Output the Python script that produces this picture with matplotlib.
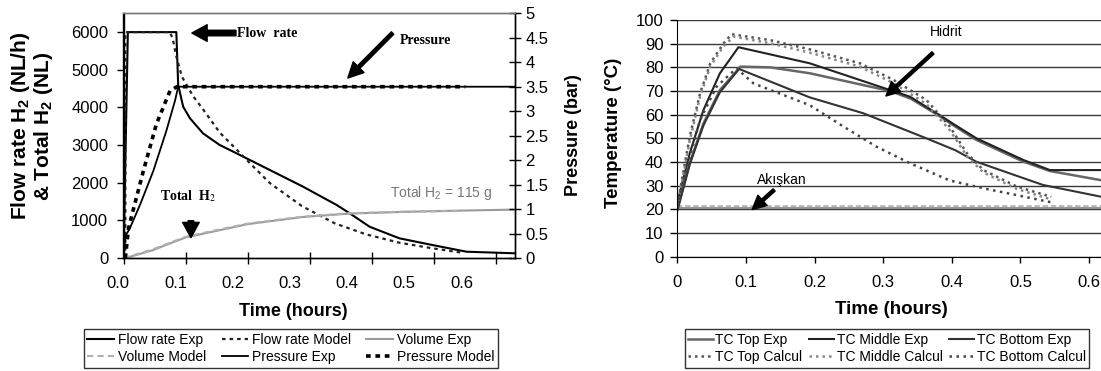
import matplotlib
matplotlib.use("Agg")
import matplotlib.pyplot as plt

plt.rcParams['font.family'] = ['Liberation Sans', 'DejaVu Sans']
plt.rcParams['mathtext.fontset'] = 'custom'
plt.rcParams['mathtext.rm'] = 'Liberation Sans'
plt.rcParams['mathtext.bf'] = 'Liberation Sans:bold'
plt.rcParams['mathtext.it'] = 'Liberation Sans:italic'

# ---------------- Left chart data ----------------
x_ticks_left = [0.0, 0.1, 0.2, 0.3, 0.4, 0.5, 0.6]
x_ticklabels_left = ["0.0", "0.1", "0.2", "0.3", "0.4", "0.5", "0.6"]
y_ticks_flow = [0, 1000, 2000, 3000, 4000, 5000, 6000]
y_ticks_pres = [0, 0.5, 1, 1.5, 2, 2.5, 3, 3.5, 4, 4.5, 5]
y_ticklabels_pres = ["0", "0.5", "1", "1.5", "2", "2.5", "3", "3.5", "4", "4.5", "5"]

fr_exp_t = [0, 0.007, 0.085, 0.088, 0.096, 0.107, 0.128, 0.155, 0.182, 0.2355,
            0.289, 0.343, 0.364, 0.396, 0.444, 0.497, 0.552, 0.630]
fr_exp_v = [0, 6000, 6000, 4595, 4020, 3710, 3310, 3000, 2780, 2337,
            1894, 1408, 1187, 831, 523, 345, 167, 125]

fr_mod_t = [0.003, 0.003, 0.074, 0.079, 0.084, 0.094, 0.112, 0.128, 0.155, 0.182,
            0.209, 0.2355, 0.287, 0.340, 0.390, 0.444, 0.497, 0.545]
fr_mod_v = [0, 6000, 6000, 5850, 5420, 4815, 4300, 3950, 3330, 2880,
            2425, 1990, 1380, 920, 630, 406, 258, 140]

vol_exp_t = [0, 0.010, 0.048, 0.075, 0.100, 0.155, 0.200, 0.289, 0.364, 0.450, 0.530, 0.627]
vol_exp_v = [0, 30, 212, 390, 545, 740, 900, 1090, 1180, 1225, 1255, 1285]

vol_mod_t = [0, 0.010, 0.048, 0.075, 0.100, 0.155, 0.200, 0.289, 0.364, 0.450, 0.545]
vol_mod_v = [0, 45, 235, 405, 565, 760, 915, 1100, 1190, 1230, 1250]

p_exp_t = [0, 0.003, 0.010, 0.027, 0.048, 0.069, 0.083, 0.088, 0.630]
p_exp_v = [0, 0.45, 0.60, 1.10, 1.78, 2.60, 3.22, 3.50, 3.50]

p_mod_t = [0.003, 0.008, 0.016, 0.032, 0.053, 0.075, 0.086, 0.550]
p_mod_v = [0.0, 0.60, 1.00, 1.78, 2.74, 3.42, 3.50, 3.50]

# ---------------- Right chart data ----------------
x_ticks_right = [0, 0.1, 0.2, 0.3, 0.4, 0.5, 0.6]
x_ticklabels_right = ["0", "0.1", "0.2", "0.3", "0.4", "0.5", "0.6"]
y_ticks_temp = [0, 10, 20, 30, 40, 50, 60, 70, 80, 90, 100]

mid_exp_t = [0, 0.018, 0.038, 0.062, 0.089, 0.193, 0.310, 0.339, 0.378, 0.405,
             0.436, 0.504, 0.543, 0.620]
mid_exp_v = [23, 43.7, 62, 77.5, 88.5, 81.7, 70.4, 67.6, 60.6, 55.6,
             50.0, 40.9, 36.6, 36.6]

top_exp_t = [0, 0.018, 0.038, 0.062, 0.092, 0.135, 0.193, 0.310, 0.340, 0.380,
             0.405, 0.436, 0.504, 0.543, 0.620]
top_exp_v = [20, 39.6, 56.3, 70.4, 80.3, 80.0, 77.5, 70.0, 66.8, 59.8,
             55.0, 49.3, 40.2, 36.2, 32.2]

bot_exp_t = [0, 0.018, 0.038, 0.062, 0.090, 0.193, 0.271, 0.363, 0.405, 0.436,
             0.533, 0.620]
bot_exp_v = [19.5, 39.0, 55.5, 69.5, 79.3, 67.3, 60.6, 50.0, 45.0, 40.1,
             30.3, 25.2]

top_cal_t = [0, 0.005, 0.018, 0.033, 0.048, 0.067, 0.079, 0.135, 0.193, 0.266,
             0.315, 0.363, 0.397, 0.422, 0.446, 0.495, 0.545]
top_cal_v = [22, 30, 50.7, 69, 81.7, 90, 94, 91.5, 87.6, 81.7,
             74.7, 66.2, 55.0, 43.7, 36.6, 29.6, 25.3]

mid_cal_t = [0, 0.005, 0.018, 0.033, 0.048, 0.067, 0.082, 0.135, 0.193, 0.266,
             0.315, 0.363, 0.397, 0.422, 0.446, 0.495, 0.545]
mid_cal_v = [21, 29, 49, 67.5, 80.5, 88.8, 93, 90.2, 86.2, 80.3,
             73.3, 64.5, 53.5, 42.5, 35.6, 28.6, 24.2]

bot_cal_t = [0, 0.014, 0.033, 0.057, 0.086, 0.111, 0.193, 0.242, 0.290, 0.339,
             0.397, 0.446, 0.495, 0.548]
bot_cal_v = [21, 38, 57.8, 71.8, 79.6, 73.2, 64.0, 55.0, 46.5, 39.5,
             32.2, 28.9, 26.0, 22.8]

fluid_t = [0, 0.1, 0.2, 0.3, 0.4, 0.5, 0.62]
fluid_a = [20.4, 20.4, 20.4, 20.4, 20.4, 20.4, 20.4]
fluid_b = [21.4, 21.4, 21.4, 21.4, 21.4, 21.4, 21.4]

# ---------------- Figure ----------------
W, H = 1101, 371
fig = plt.figure(figsize=(W / 100, H / 100), dpi=100)

def fx(px):
    return px / W

def fy(py):
    return 1 - py / H

# ---- Left chart ----
ax1 = fig.add_axes([fx(123.5), fy(258), fx(515 - 123.5), (258 - 13.3) / H])
ax2 = ax1.twinx()

l_fr_exp, = ax1.plot(fr_exp_t, fr_exp_v, color='black', lw=1.5, label='Flow rate Exp')
l_fr_mod, = ax1.plot(fr_mod_t, fr_mod_v, color='#222222', lw=1.6,
                     linestyle=(0, (1.6, 1.8)), label='Flow rate Model')
l_vol_exp, = ax1.plot(vol_exp_t, vol_exp_v, color='#9a9a9a', lw=1.5, label='Volume Exp')
l_vol_mod, = ax1.plot(vol_mod_t, vol_mod_v, color='#b0b0b0', lw=1.5,
                      linestyle=(0, (3, 2)), label='Volume Model')
l_p_exp, = ax2.plot(p_exp_t, p_exp_v, color='black', lw=1.3, label='Pressure Exp')
l_p_mod, = ax2.plot(p_mod_t, p_mod_v, color='black', lw=2.6,
                    linestyle=(0, (1.3, 1.3)), label='Pressure Model')

ax1.set_xlim(0, 0.63)
ax1.set_ylim(0, 6500)
ax2.set_ylim(0, 5)
ax1.set_xticks(x_ticks_left)
ax1.set_yticks(y_ticks_flow)
ax2.set_yticks(y_ticks_pres)
ax2.set_yticklabels(y_ticklabels_pres)
ax1.tick_params(axis='x', direction='inout', length=8, labelbottom=False, width=1)
ax1.tick_params(axis='y', direction='out', length=5, pad=6, labelsize=12, width=1)
ax2.tick_params(axis='y', direction='inout', length=8, pad=3.5, labelsize=12, width=1)
for ax in (ax1, ax2):
    for s in ax.spines.values():
        s.set_linewidth(1.0)
    ax.spines['top'].set_color('#777777')

# x tick labels of left chart (as in the reference, slightly compressed)
axl = fig.add_axes([fx(118.3), fy(258), fx(57.2 * 6.3), 1e-4])
axl.set_xlim(0, 0.63)
axl.set_xticks(x_ticks_left)
axl.set_xticklabels(x_ticklabels_left)
axl.tick_params(axis='x', length=0, pad=13, labelsize=12)
axl.set_yticks([])
for s in axl.spines.values():
    s.set_visible(False)
axl.patch.set_visible(False)

fig.text(fx(293), fy(312), 'Time (hours)', ha='center', va='center',
         fontsize=13, fontweight='bold')
fig.text(fx(32), fy(126),
         'Flow rate H$_\\mathbf{2}$ (NL/h)\n& Total H$_\\mathbf{2}$ (NL)',
         ha='center', va='center', rotation=90, fontsize=15,
         fontweight='bold', linespacing=1.05, multialignment='center')
fig.text(fx(573), fy(135), 'Pressure (bar)', ha='center', va='center',
         rotation=90, fontsize=13, fontweight='bold')

serif = ['Liberation Serif', 'DejaVu Serif']
arrow_big = dict(width=4, headwidth=12, headlength=11, facecolor='black',
                 edgecolor='black', shrink=0)
ax1.annotate('', xy=(0.110, 5976), xytext=(0.181, 5976), arrowprops=arrow_big)
ax1.text(0.1825, 5976, 'Flow  rate', family=serif, fontweight='bold',
         fontsize=10, ha='left', va='center')
arrow_mid = dict(width=2.5, headwidth=11, headlength=11, facecolor='black',
                 edgecolor='black', shrink=0)
ax1.annotate('', xy=(0.361, 4781), xytext=(0.433, 5976), arrowprops=arrow_mid)
ax1.text(0.4445, 5790, 'Pressure', family=serif, fontweight='bold',
         fontsize=10, ha='left', va='center')
ax1.annotate('', xy=(0.1085, 540), xytext=(0.1085, 990), arrowprops=arrow_big)
ax1.text(0.0587, 1640, 'Total  H$_2$', family=serif, fontweight='bold',
         fontsize=10, ha='left', va='center', math_fontfamily='stix')
ax1.text(0.4285, 1726, 'Total H$_2$ = 115 g', color='#777777', fontsize=10,
         ha='left', va='center')

handles_l = [l_fr_exp, l_vol_mod, l_fr_mod, l_p_exp, l_vol_exp, l_p_mod]
leg1 = fig.legend(handles=handles_l, labels=[h.get_label() for h in handles_l],
                  ncol=3, loc='center', bbox_to_anchor=(fx(291), fy(348.5)),
                  fontsize=10, frameon=True, fancybox=False, edgecolor='black',
                  handlelength=1.9, handletextpad=0.3, columnspacing=1.1,
                  labelspacing=0.25, borderpad=0.25)
leg1.get_frame().set_linewidth(1.0)

# ---- Right chart ----
ax3 = fig.add_axes([fx(677.4), fy(256.7), fx(0.62 * 686), (256.7 - 20) / H])
ax3.set_axisbelow(True)
ax3.yaxis.grid(True, color='#3a3a3a', lw=1.0)

ax3.plot(fluid_t, fluid_a, color='#8a8a8a', lw=1.3)
ax3.plot(fluid_t, fluid_b, color='#b5b5b5', lw=1.3, linestyle=(0, (3, 1.5)))
l_top_exp, = ax3.plot(top_exp_t, top_exp_v, color='#666666', lw=1.8, label='TC Top Exp')
l_mid_exp, = ax3.plot(mid_exp_t, mid_exp_v, color='#222222', lw=1.5, label='TC Middle Exp')
l_bot_exp, = ax3.plot(bot_exp_t, bot_exp_v, color='#333333', lw=1.5, label='TC Bottom Exp')
l_top_cal, = ax3.plot(top_cal_t, top_cal_v, color='#555555', lw=1.8,
                      linestyle=(0, (1, 1.6)), label='TC Top Calcul')
l_mid_cal, = ax3.plot(mid_cal_t, mid_cal_v, color='#888888', lw=1.8,
                      linestyle=(0, (1, 1.6)), label='TC Middle Calcul')
l_bot_cal, = ax3.plot(bot_cal_t, bot_cal_v, color='#444444', lw=1.8,
                      linestyle=(0, (1, 1.8)), label='TC Bottom Calcul')

ax3.set_xlim(0, 0.62)
ax3.set_ylim(0, 100)
ax3.set_xticks(x_ticks_right)
ax3.set_xticklabels(x_ticklabels_right)
ax3.set_yticks(y_ticks_temp)
ax3.tick_params(axis='x', direction='out', length=4, pad=9, labelsize=12, width=1)
ax3.tick_params(axis='y', direction='out', length=5, pad=5, labelsize=12, width=1)
ax3.spines['top'].set_visible(False)
ax3.spines['right'].set_visible(False)

fig.text(fx(891), fy(309), 'Time (hours)', ha='center', va='center',
         fontsize=13.5, fontweight='bold')
fig.text(fx(614), fy(133), 'Temperature (°C)', ha='center', va='center',
         rotation=90, fontsize=13.5, fontweight='bold')

arrow_r = dict(width=2.2, headwidth=10, headlength=10, facecolor='black',
               edgecolor='black', shrink=0)
ax3.annotate('', xy=(0.304, 67.9), xytext=(0.3725, 86.1), arrowprops=arrow_r)
ax3.text(0.368, 95, 'Hidrit', fontsize=10, ha='left', va='center')
ax3.annotate('', xy=(0.109, 19.9), xytext=(0.141, 28.2), arrowprops=arrow_r)
ax3.text(0.116, 32.4, 'Akışkan', fontsize=10, ha='left', va='center')

handles_r = [l_top_exp, l_top_cal, l_mid_exp, l_mid_cal, l_bot_exp, l_bot_cal]
leg2 = fig.legend(handles=handles_r, labels=[h.get_label() for h in handles_r],
                  ncol=3, loc='center', bbox_to_anchor=(fx(887), fy(348.5)),
                  fontsize=10, frameon=True, fancybox=False, edgecolor='black',
                  handlelength=1.8, handletextpad=0.15, columnspacing=0.5,
                  labelspacing=0.25, borderpad=0.25)
leg2.get_frame().set_linewidth(1.0)

fig.savefig('out.png', dpi=100)
